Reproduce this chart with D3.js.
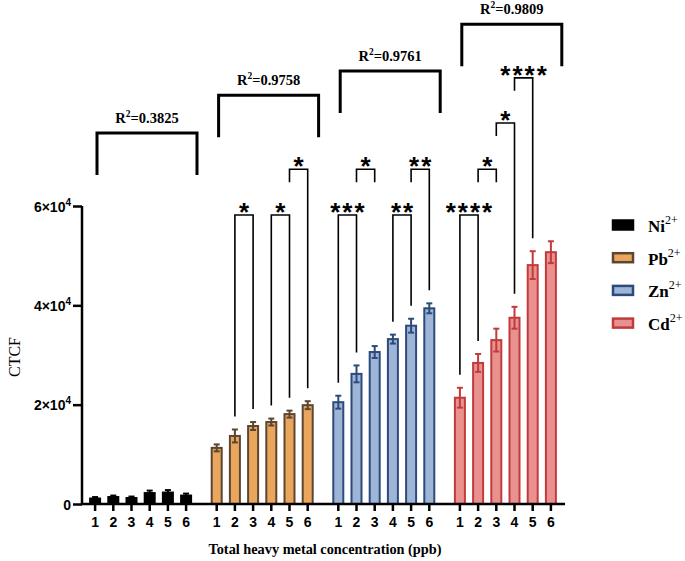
<!DOCTYPE html>
<html><head><meta charset="utf-8">
<script src="https://cdn.jsdelivr.net/npm/d3@7"></script>
<style>body{margin:0;background:#fff}svg{display:block}</style>
</head><body>
<svg id="chart" width="685" height="561"></svg>
<script>
// ---- data ----
const categories = ["1","2","3","4","5","6"];
const metals = ["Ni","Pb","Zn","Cd"];
const niValues = [1100, 1400, 1200, 2200, 2300, 1700];
const niErrors = [300, 300, 300, 500, 500, 400];
const pbValues = [11300, 13700, 15700, 16500, 18100, 19900];
const pbErrors = [700, 1300, 800, 700, 700, 800];
const znValues = [20500, 26200, 30600, 33200, 35900, 39400];
const znErrors = [1300, 1700, 1200, 900, 1400, 1000];
const cdValues = [21400, 28400, 33000, 37500, 48100, 50700];
const cdErrors = [2000, 1800, 2300, 2200, 2800, 2200];
const yTicks = [0, 20000, 40000, 60000];
const yTickLabels = [["0",""],["2×10","4"],["4×10","4"],["6×10","4"]];
const r2Labels = ["0.3825","0.9758","0.9761","0.9809"];
const r2Heights = [74700, 82300, 87200, 96600];   // bracket top, data units
const sigLevels = [58200, 67400, 76700, 85800];   // bracket tops, data units
// [metal, barA, barB, level, label, longLegA, longLegB]
const sigBrackets = [
  ["Pb",1,2,0,"*",1,1],["Pb",3,4,0,"*",1,1],["Pb",4,5,1,"*",0,1],
  ["Zn",0,1,0,"***",1,1],["Zn",1,2,1,"*",0,0],["Zn",3,4,0,"**",1,1],["Zn",4,5,1,"**",0,1],
  ["Cd",0,1,0,"****",1,1],["Cd",1,2,1,"*",0,0],["Cd",2,3,2,"*",0,1],["Cd",3,4,3,"****",0,1]
];

const values = {Ni:niValues, Pb:pbValues, Zn:znValues, Cd:cdValues};
const errors = {Ni:niErrors, Pb:pbErrors, Zn:znErrors, Cd:cdErrors};
const fills = {Ni:"#000000", Pb:"#EBA65E", Zn:"#9FB5D8", Cd:"#E8918F"};
const strokes = {Ni:"#000000", Pb:"#5B4631", Zn:"#2C4B7A", Cd:"#C23B3C"};

const svg = d3.select("#chart");
const sans = "'Liberation Sans', Arial, sans-serif";
const serif = "'Liberation Serif', 'Times New Roman', serif";

const y = d3.scaleLinear().domain([0, 60000]).range([504, 206]);
const xg = d3.scaleBand().domain(metals).range([86, 560]).paddingInner(0.102).paddingOuter(0);
const xi = d3.scaleBand().domain(categories).range([0, xg.bandwidth()]).paddingInner(0.34).paddingOuter(0.17);
const cx = (m, i) => xg(m) + xi(categories[i]) + xi.bandwidth() / 2;
const barW = 10;

// ---- bars ----
metals.forEach(m => {
  const g = svg.append("g");
  g.selectAll("rect").data(values[m]).join("rect")
    .attr("x", (d, i) => cx(m, i) - barW / 2)
    .attr("y", d => y(d))
    .attr("width", barW)
    .attr("height", d => y(0) - y(d))
    .attr("fill", fills[m]).attr("stroke", strokes[m]).attr("stroke-width", 2);
  const eb = g.selectAll("g.eb").data(values[m]).join("g").attr("class", "eb")
    .attr("stroke", strokes[m]).attr("stroke-width", 2);
  eb.append("line")
    .attr("x1", (d, i) => cx(m, i)).attr("x2", (d, i) => cx(m, i))
    .attr("y1", (d, i) => y(d - errors[m][i])).attr("y2", (d, i) => y(d + errors[m][i]));
  [1, -1].forEach(s => {
    eb.append("line")
      .attr("x1", (d, i) => cx(m, i) - 3).attr("x2", (d, i) => cx(m, i) + 3)
      .attr("y1", (d, i) => y(d + s * errors[m][i])).attr("y2", (d, i) => y(d + s * errors[m][i]));
  });
});

// ---- axes ----
const yAxis = svg.append("g").attr("transform", "translate(82,0)")
  .call(d3.axisLeft(y).tickValues(yTicks).tickSize(9).tickSizeOuter(0).tickFormat(""));
yAxis.select(".domain").attr("stroke-width", 2.5).attr("d", `M0,${y(60000)}V${y(0) + 1}`);
yAxis.selectAll(".tick line").attr("stroke-width", 2.5);
yAxis.selectAll(".tick").each(function (d, i) {
  const t = d3.select(this).append("text")
    .attr("x", -11).attr("y", 5).attr("text-anchor", "end")
    .attr("font-family", sans).attr("font-weight", "bold").attr("font-size", 14).attr("fill", "#000");
  t.append("tspan").text(yTickLabels[i][0]);
  if (yTickLabels[i][1]) t.append("tspan").attr("font-size", 10).attr("dy", -6).text(yTickLabels[i][1]);
});

svg.append("line").attr("x1", 81).attr("x2", xg.range()[1] + 5)
  .attr("y1", y(0)).attr("y2", y(0)).attr("stroke", "#000").attr("stroke-width", 2.5);

metals.forEach(m => {
  const ax = svg.append("g").attr("transform", `translate(${xg(m)},${y(0)})`)
    .call(d3.axisBottom(xi).tickSize(7).tickSizeOuter(0));
  ax.select(".domain").remove();
  ax.selectAll(".tick line").attr("stroke-width", 2.5);
  ax.selectAll(".tick text").attr("y", 13)
    .attr("font-family", sans).attr("font-weight", "bold").attr("font-size", 14).attr("fill", "#000");
});

svg.append("text").attr("x", 325).attr("y", 554).attr("text-anchor", "middle")
  .attr("font-family", serif).attr("font-weight", "bold").attr("font-size", 14.3)
  .text("Total heavy metal concentration (ppb)");
svg.append("text").attr("transform", "translate(20,357) rotate(-90)").attr("text-anchor", "middle")
  .attr("font-family", serif).attr("font-size", 16).text("CTCF");

// ---- R² group brackets ----
metals.forEach((m, gi) => {
  const x0 = xg(m) + 11, x1 = xg(m) + 111;
  const top = y(r2Heights[gi]), bot = top + 42;
  svg.append("path").attr("d", `M${x0},${bot}V${top}H${x1}V${bot}`)
    .attr("fill", "none").attr("stroke", "#000").attr("stroke-width", 3);
  const t = svg.append("text").attr("x", (x0 + x1) / 2).attr("y", top - 10).attr("text-anchor", "middle")
    .attr("font-family", serif).attr("font-weight", "bold").attr("font-size", 14.5);
  t.append("tspan").text("R");
  t.append("tspan").attr("font-size", 9.5).attr("dy", -6).text("2");
  t.append("tspan").attr("dy", 6).text("=" + r2Labels[gi]);
});

// ---- significance brackets ----
sigBrackets.forEach(([m, a, b, lvl, lab, la, lb]) => {
  const xa = cx(m, a), xb = cx(m, b);
  const top = y(sigLevels[lvl]);
  const botA = la ? y(values[m][a] + errors[m][a]) - 13 : top + 13;
  const botB = lb ? y(values[m][b] + errors[m][b]) - 13 : top + 13;
  svg.append("path").attr("d", `M${xa},${botA}V${top}H${xb}V${botB}`)
    .attr("fill", "none").attr("stroke", "#000").attr("stroke-width", 1.6);
  const ls = 2;
  svg.append("text").attr("x", (xa + xb) / 2 + ls / 2).attr("y", top + 6).attr("text-anchor", "middle")
    .attr("font-family", sans).attr("font-weight", "bold").attr("font-size", 26)
    .attr("letter-spacing", ls).text(lab);
});

// ---- legend ----
const legendNames = {Ni:"Ni", Pb:"Pb", Zn:"Zn", Cd:"Cd"};
metals.forEach((m, i) => {
  const yc = 225 + i * 32.7;
  svg.append("rect").attr("x", 613).attr("y", yc - 4.5).attr("width", 20).attr("height", 9)
    .attr("fill", fills[m]).attr("stroke", strokes[m]).attr("stroke-width", 2.5);
  const t = svg.append("text").attr("x", 648).attr("y", yc + 7)
    .attr("font-family", serif).attr("font-weight", "bold").attr("font-size", 17);
  t.append("tspan").text(legendNames[m]);
  t.append("tspan").attr("font-size", 12).attr("font-weight", "normal").attr("dy", -8).text("2+");
});
</script>
</body></html>
